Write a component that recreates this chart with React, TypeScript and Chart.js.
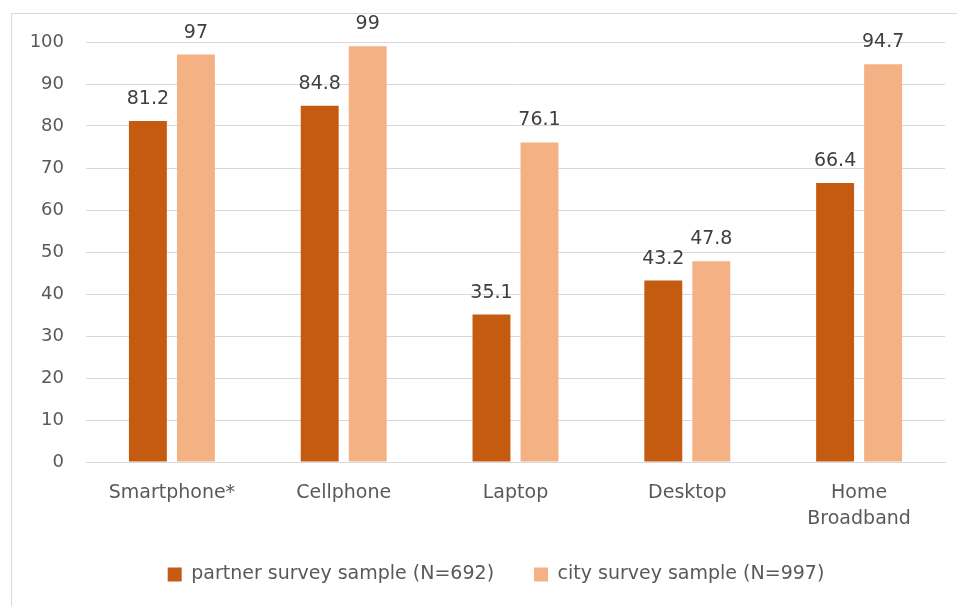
import React, { useEffect, useRef } from "react";
import { Chart, registerables } from "chart.js";

Chart.register(...registerables);

const categories: (string | string[])[] = ["Smartphone*", "Cellphone", "Laptop", "Desktop", ["Home", "Broadband"]];
const partnerValues = [81.2, 84.8, 35.1, 43.2, 66.4];
const cityValues = [97, 99, 76.1, 47.8, 94.7];
const seriesNames = ["partner survey sample (N=692)", "city survey sample (N=997)"];
const yTicks = { min: 0, max: 100, step: 10 };

const FONT = "'DejaVu Sans', sans-serif";

const dataLabels = {
  id: "dataLabels",
  afterDatasetsDraw(chart: any) {
    const ctx = chart.ctx;
    ctx.save();
    ctx.font = `19px ${FONT}`;
    ctx.fillStyle = "#404040";
    ctx.textAlign = "center";
    ctx.textBaseline = "alphabetic";
    chart.data.datasets.forEach((ds: any, i: number) => {
      const meta = chart.getDatasetMeta(i);
      meta.data.forEach((bar: any, j: number) => {
        ctx.fillText(String(ds.data[j]), bar.x, bar.y - 17);
      });
    });
    ctx.restore();
  },
};

const layoutTweaks = {
  id: "layoutTweaks",
  afterLayout(chart: any) {
    const x = chart.scales.x;
    if (x) x.bottom = x.top + 90;
  },
  afterUpdate(chart: any) {
    if (chart.legend) {
      chart.legend.left += 18;
      chart.legend.right += 18;
    }
  },
};

export default function App() {
  const ref = useRef<HTMLCanvasElement>(null);
  useEffect(() => {
    if (!ref.current) return;
    const chart = new Chart(ref.current, {
      type: "bar",
      data: {
        labels: categories,
        datasets: [
          { label: seriesNames[0], data: partnerValues, backgroundColor: "#C55A11" },
          { label: seriesNames[1], data: cityValues, backgroundColor: "#F4B183" },
        ],
      },
      options: {
        animation: false,
        responsive: false,
        maintainAspectRatio: false,
        layout: { padding: { left: 11, right: 12, top: 42, bottom: 12 } },
        datasets: { bar: { categoryPercentage: 0.559, barPercentage: 0.79 } },
        scales: {
          x: {
            grid: { display: false, drawTicks: false },
            border: { color: "#D9D9D9" },
            ticks: {
              color: "#595959",
              font: { family: FONT, size: 19, lineHeight: 1.37 },
              padding: 18,
              maxRotation: 0,
              autoSkip: false,
            },
            afterFit(scale: any) {
              scale.height = 63;
            },
          },
          y: {
            min: yTicks.min,
            max: yTicks.max,
            grid: { color: "#D9D9D9", drawTicks: false },
            border: { display: false },
            ticks: {
              stepSize: yTicks.step,
              color: "#595959",
              font: { family: FONT, size: 18 },
              padding: 22,
            },
            afterFit(scale: any) {
              scale.width = 75;
            },
          },
        },
        plugins: {
          legend: {
            position: "bottom",
            labels: {
              color: "#595959",
              font: { family: FONT, size: 19 },
              boxWidth: 14,
              boxHeight: 14,
              padding: 40,
            },
          },
          tooltip: { enabled: false },
        },
      },
      plugins: [dataLabels, layoutTweaks],
    });
    return () => chart.destroy();
  }, []);

  return (
    <div style={{ position: "fixed", left: 0, top: 0, width: 957, height: 606, overflow: "hidden", background: "#fff" }}>
      <div
        style={{
          position: "absolute",
          left: 11,
          top: 13,
          width: 1000,
          height: 700,
          border: "1px solid #D9D9D9",
          boxSizing: "border-box",
        }}
      />
      <canvas ref={ref} width={957} height={606} style={{ position: "absolute", left: 0, top: 0 }} />
    </div>
  );
}
